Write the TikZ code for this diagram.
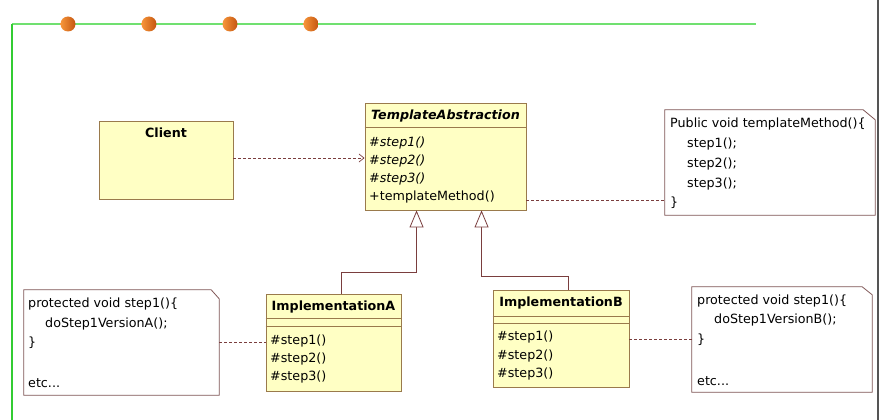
\documentclass[tikz,border=0pt]{standalone}
\usepackage{fontspec}
\newfontfamily\umlfont{DejaVu Sans}
\usetikzlibrary{arrows.meta,calc}
\definecolor{clsfill}{HTML}{FFFFC4}
\definecolor{clsline}{HTML}{9A7A4C}
\definecolor{relline}{HTML}{7A3E3E}
\definecolor{noteline}{HTML}{7F5555}
\definecolor{framegreen}{HTML}{70E070}
\definecolor{framegreentwo}{HTML}{33CC33}
\definecolor{dotlight}{HTML}{F7963A}
\definecolor{dotdark}{HTML}{C45510}
\definecolor{edgegray}{HTML}{555555}
\begin{document}
\begin{tikzpicture}[x=1pt,y=-1pt,
  umltxt/.style={font=\umlfont\fontsize{12.7}{15}\selectfont, inner sep=0pt, anchor=west, text=black},
  umlbold/.style={font=\umlfont\bfseries\fontsize{12.7}{15}\selectfont, inner sep=0pt, anchor=center, text=black},
  umlit/.style={font=\umlfont\itshape\fontsize{12.7}{15}\selectfont, inner sep=0pt, anchor=west, text=black},
  umlboldit/.style={font=\umlfont\bfseries\itshape\fontsize{12.7}{15}\selectfont, inner sep=0pt, anchor=center, text=black},
  clsbox/.style={draw=clsline, fill=clsfill, line width=0.9pt, inner sep=0pt},
  clssep/.style={draw=clsline, line width=0.9pt},
  notebox/.style={inner sep=0pt},
  noteedge/.style={draw=noteline, fill=white, line width=0.8pt},
  dep/.style={draw=relline, dash pattern=on 3pt off 2pt, line width=0.7pt},
  gen/.style={draw=relline, line width=0.8pt, -{Triangle[open,length=17pt,width=14pt,fill=white]}},
  dotball/.style={circle, minimum size=15pt, inner sep=0pt, left color=dotlight, right color=dotdark, draw=none}
]
\useasboundingbox (0,0) rectangle (879,420);
\fill[white] (0,0) rectangle (879,420);

% frame
\draw[framegreen, line width=1.6pt] (12,24) -- (756,24);
\draw[framegreentwo, line width=1.2pt] (12,24) -- (12,420);
\node[dotball] (d1) at (68,24) {};
\node[dotball] (d2) at (149,24) {};
\node[dotball] (d3) at (230,24) {};
\node[dotball] (d4) at (311,24) {};
\fill[edgegray] (876.5,0) rectangle (879,420);

% classes
\node[clsbox, minimum width=134pt, minimum height=78pt] (client) at (166,160) {};
\node[umlbold] (clientname) at (166,133) {Client};

\node[clsbox, minimum width=161pt, minimum height=107pt] (ta) at (445.5,156.5) {};
\draw[clssep] ([yshift=-25pt]ta.north west) -- ([yshift=-25pt]ta.north east);
\node[umlboldit] (taname) at (445.5,116) {TemplateAbstraction};
\node[umlit] (tas1) at (369,143) {\#step1()};
\node[umlit] (tas2) at (369,161) {\#step2()};
\node[umlit] (tas3) at (369,179) {\#step3()};
\node[umltxt] (tatm) at (369,197) {+templateMethod()};

\node[clsbox, minimum width=135pt, minimum height=97pt] (implA) at (333.5,342.5) {};
\draw[clssep] ([yshift=-25pt]implA.north west) -- ([yshift=-25pt]implA.north east);
\draw[clssep] ([yshift=-33pt]implA.north west) -- ([yshift=-33pt]implA.north east);
\node[umlbold] (implAname) at (333.5,307) {ImplementationA};
\node[umltxt] (as1) at (270,341) {\#step1()};
\node[umltxt] (as2) at (270,359) {\#step2()};
\node[umltxt] (as3) at (270,377) {\#step3()};

\node[clsbox, minimum width=136pt, minimum height=97pt] (implB) at (561,338.5) {};
\draw[clssep] ([yshift=-27pt]implB.north west) -- ([yshift=-27pt]implB.north east);
\draw[clssep] ([yshift=-34pt]implB.north west) -- ([yshift=-34pt]implB.north east);
\node[umlbold] (implBname) at (561,303) {ImplementationB};
\node[umltxt] (bs1) at (497,337) {\#step1()};
\node[umltxt] (bs2) at (497,356) {\#step2()};
\node[umltxt] (bs3) at (497,374) {\#step3()};

% notes
\node[notebox, minimum width=210pt, minimum height=105pt] (note1) at (770,162.5) {};
\draw[noteedge] (note1.north west) -- ([xshift=-12pt]note1.north east) -- ([yshift=-10pt]note1.north east) -- (note1.south east) -- (note1.south west) -- cycle;
\node[umltxt] (n1a) at (670,124) {Public void templateMethod()\{};
\node[umltxt] (n1b) at (687,144) {step1();};
\node[umltxt] (n1c) at (687,164) {step2();};
\node[umltxt] (n1d) at (687,184) {step3();};
\node[umltxt] (n1e) at (670,203) {\}};

\node[notebox, minimum width=195pt, minimum height=105pt] (noteA) at (121.5,342.5) {};
\draw[noteedge] (noteA.north west) -- ([xshift=-8pt]noteA.north east) -- ([yshift=-9pt]noteA.north east) -- (noteA.south east) -- (noteA.south west) -- cycle;
\node[umltxt] (nAa) at (28,304) {protected void step1()\{};
\node[umltxt] (nAb) at (45,324) {doStep1VersionA();};
\node[umltxt] (nAc) at (28,343) {\}};
\node[umltxt] (nAd) at (28,383) {etc...};

\node[notebox, minimum width=180pt, minimum height=105pt] (noteB) at (782,339.5) {};
\draw[noteedge] (noteB.north west) -- ([xshift=-10pt]noteB.north east) -- ([yshift=-8pt]noteB.north east) -- (noteB.south east) -- (noteB.south west) -- cycle;
\node[umltxt] (nBa) at (697,301) {protected void step1()\{};
\node[umltxt] (nBb) at (714,320) {doStep1VersionB();};
\node[umltxt] (nBc) at (697,340) {\}};
\node[umltxt] (nBd) at (697,381) {etc...};

% connectors
\draw[dep, -{Straight Barb[length=5pt,width=8pt]}] ([yshift=2pt]client.east) -- ([yshift=2pt]client.east -| ta.west);
\draw[dep] ([yshift=10pt]ta.south east) -- ([yshift=10pt]ta.south east -| note1.west);
\draw[dep] (noteA.east) -- (noteA.east -| implA.west);
\draw[dep] (implB.east |- noteB.west) -- (noteB.west);
\draw[gen] ([xshift=7.5pt]implA.north) -- ++(0,-21) -| ([xshift=52pt]ta.south west);
\draw[gen] ([xshift=7pt]implB.north) -- ++(0,-13) -| ([xshift=117pt]ta.south west);
\end{tikzpicture}
\end{document}
